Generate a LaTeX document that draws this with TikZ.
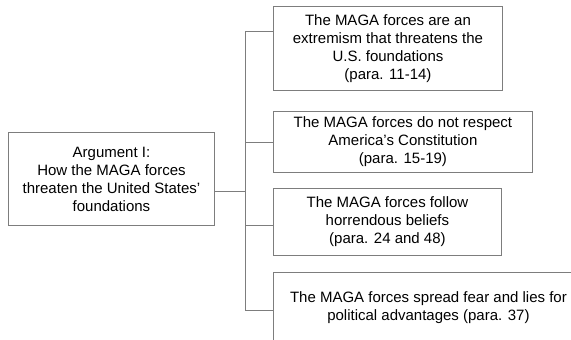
\documentclass[tikz,border=0pt]{standalone}
\usepackage{fontspec}
\setmainfont{Liberation Sans}
\usetikzlibrary{positioning}
\definecolor{linegray}{RGB}{125,125,125}
\tikzset {
  % path style for the tree lines
  link/.style = {
    draw = linegray,
    line width = 0.9pt
  },
  % boxes with the claims
  claim/.style = {
    draw = linegray,
    line width = 0.9pt,
    fill = white,
    rectangle,
    anchor = north west,
    align = center,
    inner sep = 0,
    font = \fontsize{15}{18}\selectfont
  }
}

\begin{document}
\begin{tikzpicture}[x=1pt, y=-1pt]
    \useasboundingbox (0,0) rectangle (571,340);
    \clip (0,0) rectangle (571,340);
    \node[claim, minimum width=206pt, minimum height=93pt] (arg) at (8,132)
      {Argument I:\\How the MAGA forces\\threaten the United States'\\foundations};
    \node[claim, minimum width=229pt, minimum height=84pt] (extreme) at (273,6)
      {The MAGA forces are an\\extremism that threatens the\\U.S. foundations\\(para. 11-14)};
    \node[claim, minimum width=259pt, minimum height=61pt] (constit) at (273,111)
      {The MAGA forces do not respect\\America's Constitution\\(para. 15-19)};
    \node[claim, minimum width=228pt, minimum height=67pt] (beliefs) at (273,188)
      {The MAGA forces follow\\horrendous beliefs\\(para. 24 and 48)};
    \node[claim, minimum width=310pt, minimum height=71pt] (fear) at (273,272)
      {The MAGA forces spread fear and lies for\\political advantages (para. 37)};
    \coordinate (split) at (245,191);

    \draw[link] (arg.east |- split) -- (split);
    \draw[link] (extreme.west |- 0,31) -| (split);
    \draw[link] (constit.west |- 0,142) -| (split);
    \draw[link] (beliefs.west |- 0,225) -| (split);
    \draw[link] (fear.west |- 0,310) -| (split);
  \end{tikzpicture}
\end{document}
